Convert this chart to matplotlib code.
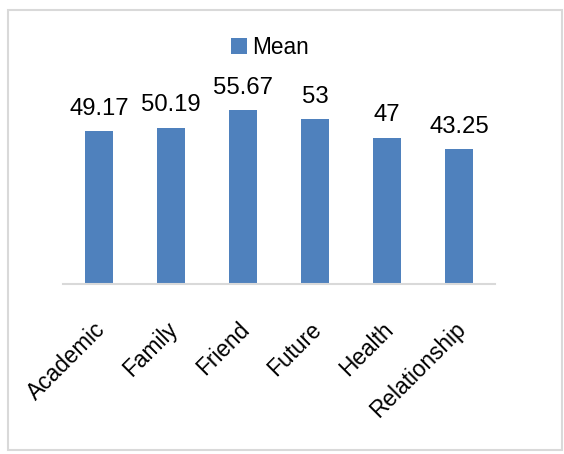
import matplotlib.pyplot as plt
from matplotlib.patches import Rectangle

categories = ['Academic', 'Family', 'Friend', 'Future', 'Health', 'Relationship']
mean_values = [49.17, 50.19, 55.67, 53, 47, 43.25]
value_labels = ['49.17', '50.19', '55.67', '53', '47', '43.25']

plt.rcParams['font.family'] = ['Liberation Sans', 'DejaVu Sans']

W, H = 564, 454
fig = plt.figure(figsize=(W / 100, H / 100), dpi=100)

# outer gray frame
fig.patches.append(Rectangle((8 / W, (H - 450) / H), (562 - 8) / W, (450 - 10) / H,
                             transform=fig.transFigure, fill=False,
                             edgecolor='#d9d9d9', linewidth=1.5))

ax = fig.add_axes([63 / W, (H - 284) / H, 432 / W, 187 / H])
x = range(len(categories))
bars = ax.bar(x, mean_values, width=0.4, color='#4f81bd', label='Mean')

for b, lab in zip(bars, value_labels):
    ax.annotate(lab, (b.get_x() + b.get_width() / 2, b.get_height()),
                xytext=(0, 8), textcoords='offset points',
                ha='center', va='bottom', fontsize=17.2)

ax.set_xlim(-0.5, len(categories) - 0.5)
ax.set_ylim(0, 60)
ax.set_yticks([])
for s in ['top', 'right', 'left']:
    ax.spines[s].set_visible(False)
ax.spines['bottom'].set_color('#d9d9d9')
ax.spines['bottom'].set_linewidth(1.5)

ax.set_xticks([i + 0.04 for i in x])
ax.set_xticklabels(categories, rotation=45, ha='right', va='center',
                   rotation_mode='anchor', fontsize=16.3)
ax.tick_params(axis='x', length=0, pad=30)

fig.legend(loc='center', bbox_to_anchor=(270 / W, (H - 47) / H), frameon=False,
           fontsize=16.3, handlelength=0.7, handleheight=0.7, handletextpad=0.2)

fig.savefig('out.png', dpi=100)
